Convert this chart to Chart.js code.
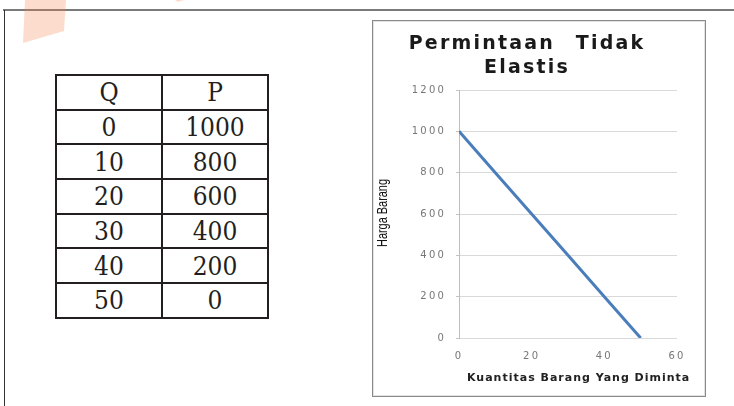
<!DOCTYPE html>
<html>
<head>
<meta charset="utf-8">
<title>Permintaan Tidak Elastis</title>
<script src="https://cdn.jsdelivr.net/npm/chart.js@4.4.1/dist/chart.umd.min.js"></script>
<style>
  body {
    margin: 0;
    width: 734px;
    height: 406px;
    position: relative;
    overflow: hidden;
    background: #fff;
    font-family: "DejaVu Sans", sans-serif;
  }
  .garis-atas { position: absolute; left: 3px; top: 9px; width: 731px; height: 2px; background: #7a7a7a; }
  .garis-kiri { position: absolute; left: 4px; top: 10px; width: 1px; height: 396px; background: #333; }
  .tanda { position: absolute; left: 0; top: 0; }

  #tabel {
    position: absolute;
    left: 55px;
    top: 74px;
    border-collapse: collapse;
    table-layout: fixed;
    font-family: "DejaVu Serif Condensed", "DejaVu Serif", serif;
    font-size: 26px;
    color: #231f20;
  }
  #tabel td {
    border: 2px solid #231f20;
    width: 104px;
    height: 32.7px;
    padding: 0;
    text-align: center;
    line-height: 30px;
  }

  .kotak-grafik {
    position: absolute;
    left: 372px;
    top: 20px;
    width: 334px;
    height: 377px;
    box-sizing: border-box;
    border: 1px solid #8a8a8a;
    box-shadow: inset 0 0 0 1px #e2e2e2;
    background: #fff;
  }
  .kotak-grafik canvas { position: absolute; left: 0; top: 0; }
  .judul {
    position: absolute;
    left: 0;
    top: 9px;
    width: 308px;
    text-align: center;
    font: bold 19px/24px "DejaVu Sans", sans-serif;
    letter-spacing: 2.2px;
    word-spacing: 12px;
    color: #1a1a1a;
  }
  .sumbu-y {
    position: absolute;
    left: 9px;
    top: 192px;
    transform: translate(-50%, -50%) rotate(-90deg) scaleX(0.78);
    font: 14px "Liberation Sans Narrow", "Liberation Sans", sans-serif;
    color: #111;
    white-space: nowrap;
  }
  .sumbu-x {
    position: absolute;
    left: 94px;
    top: 350px;
    font: bold 11px/14px "DejaVu Sans", sans-serif;
    letter-spacing: 1px;
    color: #222;
    white-space: nowrap;
  }
</style>
</head>
<body>

<div class="garis-atas"></div>
<div class="garis-kiri"></div>
<svg class="tanda" width="200" height="50">
  <polygon points="25,0 66,0 64,31 23,43" fill="rgb(245,125,70)" fill-opacity="0.27"/>
  <polygon points="175,0 184,0 178,2" fill="rgb(245,125,70)" fill-opacity="0.27"/>
</svg>

<table id="tabel"></table>

<div class="kotak-grafik">
  <canvas id="myChart" width="332" height="375"></canvas>
  <div class="judul">Permintaan Tidak<br>Elastis</div>
  <div class="sumbu-y">Harga Barang</div>
  <div class="sumbu-x">Kuantitas Barang Yang Diminta</div>
</div>

<script>
// jumlah barang (Q) dan harga (P)
const kuantitas = [0, 10, 20, 30, 40, 50];
const harga = [1000, 800, 600, 400, 200, 0];

const tickX = [0, 20, 40, 60];
const tickY = [0, 200, 400, 600, 800, 1000, 1200];

function isiTabel() {
    let tabel = document.getElementById('tabel');
    let baris = '<tr><td>Q</td><td>P</td></tr>';
    kuantitas.forEach(function(q, i) {
        baris += '<tr><td>' + q + '</td><td>' + harga[i] + '</td></tr>';
    });
    tabel.innerHTML = baris;
}

// angka sumbu agak renggang
const spasiHuruf = {
    id: 'spasiHuruf',
    beforeDraw(chart) {
        chart.ctx.letterSpacing = '2.2px';
    }
};

function renderChart() {

    var ctx = document.getElementById('myChart').getContext('2d');

    var fontTick = { family: 'DejaVu Sans', size: 10 };

    var myChart = new Chart(ctx, {
        type: 'scatter',
        data: {
            datasets: [{
                data: kuantitas.map(function(q, i) { return { x: q, y: harga[i] }; }),
                showLine: true,
                borderColor: '#4a7ebb',
                borderWidth: 3,
                pointRadius: 0,
                tension: 0
            }]
        },
        options: {
            responsive: false,
            animation: false,
            layout: { padding: { top: 69, right: 28, bottom: 0, left: 0 } },
            plugins: {
                legend: { display: false },
                tooltip: { enabled: false }
            },
            scales: {
                x: {
                    type: 'linear',
                    min: tickX[0],
                    max: tickX[tickX.length - 1],
                    afterBuildTicks: function(scale) {
                        scale.ticks = tickX.map(function(v) { return { value: v }; });
                    },
                    afterFit: function(scale) { scale.height = 58; },
                    grid: { display: false, drawTicks: false },
                    border: { display: false },
                    ticks: {
                        padding: 12,
                        color: '#777',
                        font: fontTick,
                        maxRotation: 0,
                        callback: function(v) { return String(v); }
                    }
                },
                y: {
                    min: tickY[0],
                    max: tickY[tickY.length - 1],
                    afterBuildTicks: function(scale) {
                        scale.ticks = tickY.map(function(v) { return { value: v }; });
                    },
                    afterFit: function(scale) { scale.width = 86; },
                    grid: { color: '#d9d9d9', tickLength: 3, tickColor: '#c4c4c4' },
                    border: { color: '#bdbdbd' },
                    ticks: {
                        padding: 10,
                        color: '#777',
                        font: fontTick,
                        callback: function(v) { return String(v); }
                    }
                }
            }
        },
        plugins: [spasiHuruf]
    });
}

isiTabel();
renderChart();
</script>
</body>
</html>
